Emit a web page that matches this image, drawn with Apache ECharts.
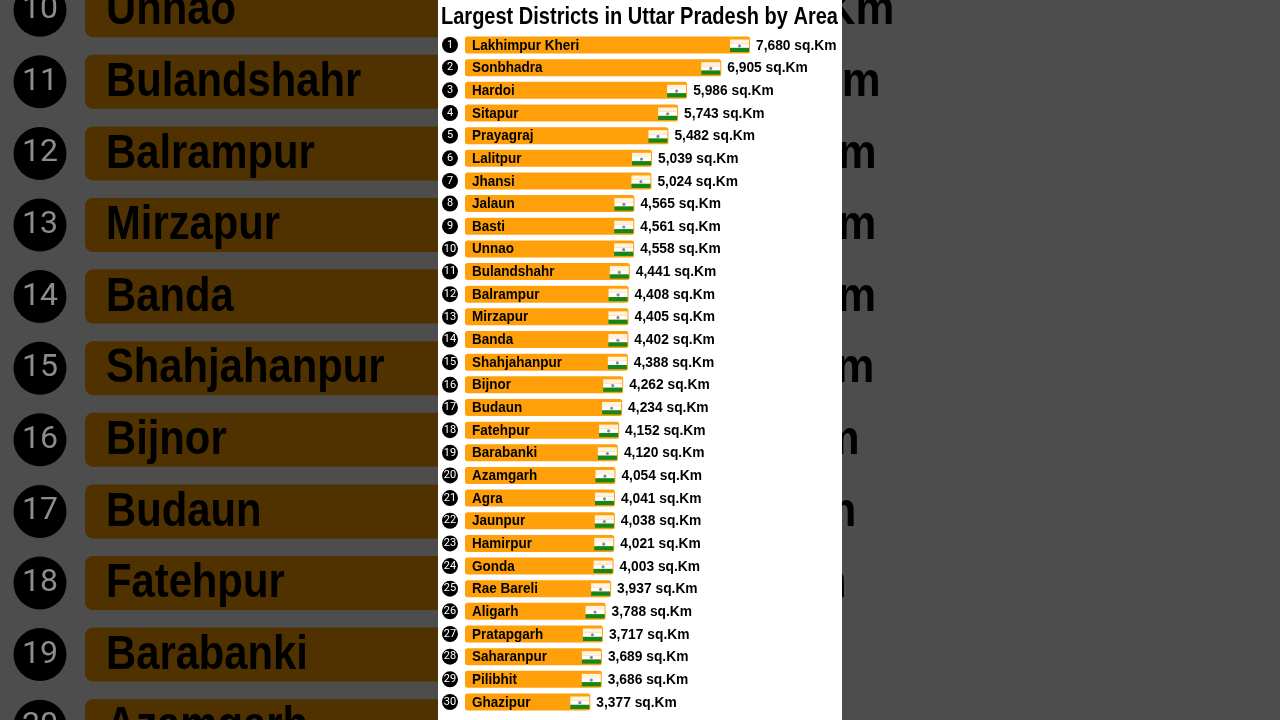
<!DOCTYPE html>
<html><head><meta charset="utf-8">
<style>html,body{margin:0;padding:0;background:#4d4d4d}#c{width:1280px;height:720px}</style>
<script src="https://cdn.jsdelivr.net/npm/echarts@6/dist/echarts.min.js"></script></head>
<body><div id="c"></div>
<script>
const districts=["Lakhimpur Kheri","Sonbhadra","Hardoi","Sitapur","Prayagraj","Lalitpur","Jhansi","Jalaun","Basti","Unnao","Bulandshahr","Balrampur","Mirzapur","Banda","Shahjahanpur","Bijnor","Budaun","Fatehpur","Barabanki","Azamgarh","Agra","Jaunpur","Hamirpur","Gonda","Rae Bareli","Aligarh","Pratapgarh","Saharanpur","Pilibhit","Ghazipur"];
const areas=[7680,6905,5986,5743,5482,5039,5024,4565,4561,4558,4441,4408,4405,4402,4388,4262,4234,4152,4120,4054,4041,4038,4021,4003,3937,3788,3717,3689,3686,3377];
const titleText="Largest Districts in Uttar Pradesh by Area";
const FONT='"Liberation Sans",sans-serif';
const fmt=v=>v.toLocaleString('en-US')+' sq.Km';
const chart=echarts.init(document.getElementById('c'),null,{renderer:'canvas'});
const points=areas.map((v,i)=>[v,i]);

function rankAxis(idx,size,r,fg,margin,z){
  return {type:'category',gridIndex:idx,inverse:true,data:districts,z:z,
    axisLine:{show:false},axisTick:{show:false},splitLine:{show:false},
    axisLabel:{interval:0,margin:margin,formatter:(v,i)=>'{r|'+(i+1)+'}',
      rich:{r:{width:r*2,height:r*2,lineHeight:r*2,borderRadius:r,backgroundColor:'#000',color:fg,align:'center',verticalAlign:'middle',
        fontFamily:'Roboto,sans-serif',fontSize:size}}}};
}
function flagItem(params,api){
  const p=api.coord([api.value(0),api.value(1)]);
  const x=p[0]-20,y=p[1]-5.5,w=19,h=12.5,s=h/3;
  return {type:'group',children:[
    {type:'rect',shape:{x:x,y:y,width:w,height:s},style:{fill:'#fff3e0'}},
    {type:'rect',shape:{x:x,y:y+s,width:w,height:s},style:{fill:'#ffffff'}},
    {type:'rect',shape:{x:x,y:y+2*s,width:w,height:s},style:{fill:'#12881a'}},
    {type:'circle',shape:{cx:x+w/2,cy:y+1.5*s,r:1.6},style:{fill:'#7f86b8'}}
  ]};
}
// Narrowed text: the reference typeface is condensed, so the label is squeezed horizontally.
function textSeries(grid,kind,offset,size,squeeze,z){
  return {type:'custom',name:kind+grid,xAxisIndex:grid,yAxisIndex:grid,z:z,data:points,encode:{x:0,y:1},
    renderItem:(params,api)=>{
      const i=api.value(1), v=api.value(0);
      const p=api.coord([kind==='name'?0:v,i]);
      return {type:'text',x:p[0]+offset,y:p[1]+size*0.02,scaleX:squeeze,
        style:{text:kind==='name'?districts[i]:fmt(v),fill:'#000',align:'left',verticalAlign:'middle',
          fontFamily:FONT,fontWeight:'bold',fontSize:size}};
    }};
}

chart.setOption({
  animation:false,
  backgroundColor:'#4d4d4d',
  graphic:[
    {type:'rect',z:3,silent:true,shape:{x:438,y:0,width:404,height:720},style:{fill:'#fff'}},
    {type:'text',z:6,silent:true,x:441,y:6,scaleX:0.87,
      style:{text:titleText,fontFamily:FONT,fontWeight:'bold',fontSize:23,fill:'#000'}}
  ],
  grid:[
    {left:85,top:-670,width:1174.6,height:2148,outerBoundsMode:'none'},
    {left:465,top:33.7,width:371.1,height:679.6,outerBoundsMode:'none'}
  ],
  xAxis:[
    {type:'value',gridIndex:0,min:0,max:10000,show:false},
    {type:'value',gridIndex:1,min:0,max:10000,show:false}
  ],
  yAxis:[rankAxis(0,32,26.5,'#8c8c8c',18.5,1),rankAxis(1,11,8,'#fff',7,4)],
  series:[
    {type:'bar',name:'zoom',xAxisIndex:0,yAxisIndex:0,data:areas,z:1,barWidth:54,
      itemStyle:{color:'#4f3200',borderRadius:8}},
    textSeries(0,'name',21,48,0.87,2),
    textSeries(0,'value',19,48,0.91,2),
    {type:'bar',name:'area',xAxisIndex:1,yAxisIndex:1,data:areas,z:4,barWidth:17,
      itemStyle:{color:'#ffa00a',borderRadius:2.5}},
    textSeries(1,'name',7,15.5,0.87,5),
    textSeries(1,'value',6,15.5,0.89,5),
    {type:'custom',name:'flags',xAxisIndex:1,yAxisIndex:1,z:5,data:points,renderItem:flagItem,encode:{x:0,y:1}}
  ]
});
</script></body></html>
